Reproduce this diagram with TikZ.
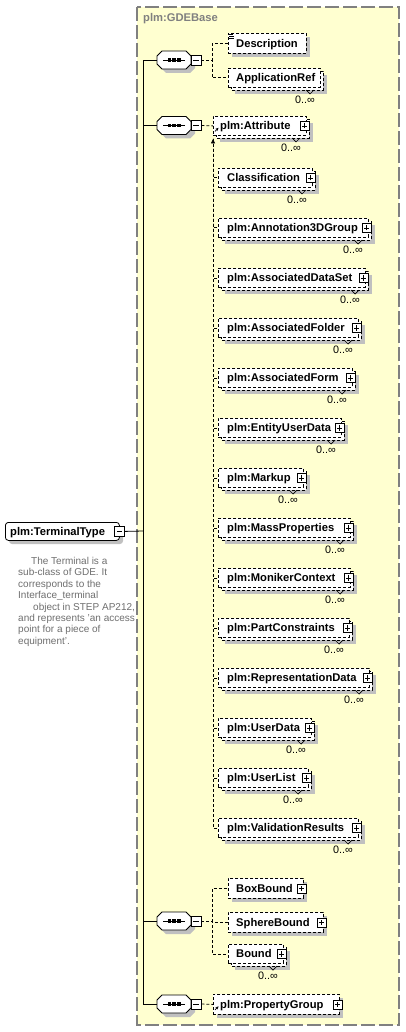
\documentclass[tikz,border=0pt]{standalone}
\usepackage{fontspec}
\setmainfont{Liberation Sans}
\usetikzlibrary{arrows.meta}
\definecolor{frameyellow}{RGB}{255,255,208}
\definecolor{framegray}{RGB}{128,128,128}
\definecolor{shadowc}{RGB}{192,192,192}
\definecolor{doctext}{RGB}{110,110,110}
\tikzset{
  conn/.style={draw=black, line width=0.8pt, dash pattern=on 3pt off 2pt},
  solidline/.style={draw=black, line width=0.8pt},
  boxd/.style={draw=black, line width=0.8pt, dash pattern=on 3pt off 2pt, fill=white, inner sep=0pt},
  lbl/.style={font=\fontsize{11.2}{13}\selectfont\bfseries, inner sep=0pt, text height=7.9pt, text depth=0pt, anchor=west},
  occ/.style={font=\fontsize{10.8}{12}\selectfont, inner sep=0pt, anchor=center},
  pbox/.style={draw=black, line width=0.7pt, fill=white, minimum size=9pt, inner sep=0pt},
}
\newcommand\xplus[1]{\draw[line width=0.7pt] ([xshift=-2.6pt]#1.center) -- ([xshift=2.6pt]#1.center) ([yshift=-2.6pt]#1.center) -- ([yshift=2.6pt]#1.center);}
\newcommand\xminus[1]{\draw[line width=0.7pt] ([xshift=-2.6pt]#1.center) -- ([xshift=2.6pt]#1.center);}
\newcommand\xpbox[1]{\node[pbox] (#1-p) at ([xshift=-2pt]#1.east) {};\xplus{#1-p}}
\newcommand\xref[1]{\draw[line width=0.8pt,-{Stealth[length=3pt,width=3pt]}] ([xshift=2pt,yshift=-5.5pt]#1.west) -- ([xshift=5.5pt,yshift=-2pt]#1.west);}
% name text L T R pad
\newcommand\xsingle[6]{%
  \fill[shadowc] ({#3+4},{#4+4}) rectangle ({#5+4},{#4+24});
  \pgfmathsetmacro\xw{#5-#3}%
  \node[boxd, anchor=north west, minimum width=\xw pt, minimum height=20pt] (#1) at (#3,#4) {};
  \node[lbl] (#1-t) at ([xshift=#6pt]#1.west) {#2};
}
\newcommand\xmulti[6]{%
  \fill[shadowc] ({#3+7},{#4+7}) rectangle ({#5+7},{#4+26});
  \filldraw[boxd] ({#3+3},{#4+3}) rectangle ({#5+3},{#4+22});
  \draw[line width=0.7pt] ({#5-14},{#4+22}) -- ({#5-10},{#4+26}) -- ({#5-6},{#4+22});
  \pgfmathsetmacro\xw{#5-#3}%
  \node[boxd, anchor=north west, minimum width=\xw pt, minimum height=19pt] (#1) at (#3,#4) {};
  \node[lbl] (#1-t) at ([xshift=#6pt]#1.west) {#2};
  \node[occ] (#1-o) at ({#5-15},{#4+32}) {0..∞};
}
\newcommand\octpath[2]{({#1-12},{#2-9}) -- ({#1+12},{#2-9}) -- ({#1+17},{#2-4}) -- ({#1+17},{#2+4}) -- ({#1+12},{#2+9}) -- ({#1-12},{#2+9}) -- ({#1-17},{#2+4}) -- ({#1-17},{#2-4}) -- cycle}
\newcommand\seqc[3]{%
  \fill[shadowc, shift={(4,4)}] \octpath{#2}{#3};
  \filldraw[fill=white, solidline] \octpath{#2}{#3};
  \node[inner sep=0pt, minimum width=34pt, minimum height=18pt] (#1) at (#2,#3) {};
  \draw[line width=0.8pt] ({#2-11},#3) -- ({#2+11},#3);
  \fill ({#2-6.5},{#3-1.7}) rectangle ({#2-3},{#3+1.7});
  \fill ({#2-1.7},{#3-1.7}) rectangle ({#2+1.7},{#3+1.7});
  \fill ({#2+3},{#3-1.7}) rectangle ({#2+6.5},{#3+1.7});
  \node[pbox, minimum size=10pt] (#1-m) at ({#2+22},#3) {};
  \xminus{#1-m}%
}
\begin{document}
\begin{tikzpicture}[x=1pt,y=-1pt]
\useasboundingbox (0,0) rectangle (405,1032);
% frame
\filldraw[fill=frameyellow, draw=framegray, line width=1.3pt, dash pattern=on 14pt off 4pt] (137,7) rectangle (399,1025);
\node[lbl, text=framegray] (gde) at (143,18) {plm:GDEBase};

% terminal type
\fill[shadowc, rounded corners=3pt] (9,526) rectangle (123,544);
\node[draw=black, line width=0.8pt, fill=white, rounded corners=3pt, anchor=north west, minimum width=114pt, minimum height=18pt, inner sep=0pt] (tt) at (5,522) {};
\node[lbl] (tt-t) at ([xshift=5pt]tt.west) {plm:TerminalType};
\node[pbox, minimum size=10pt] (tt-m) at (tt.east) {};
\xminus{tt-m}
\node[align=left, font=\fontsize{10}{11.4}\selectfont, text=doctext, anchor=north west, inner sep=0pt] (doc) at (18,557) {\hspace*{13pt}The Terminal is a\\sub-class of GDE. It\\corresponds to the\\Interface\_terminal\\\hspace*{15pt}object in STEP AP212,\\and represents 'an access\\point for a piece of\\equipment'.};

% compositors
\seqc{s1}{174}{60}
\seqc{s2}{174}{125.5}
\seqc{s3}{174}{921}
\seqc{s4}{174}{1004}

\coordinate (trunk) at (143,531);
\draw[solidline] (tt-m.east) -- (trunk);
\draw[solidline] (trunk) |- (s1.west);
\draw[solidline] (trunk) |- (s2.west);
\draw[solidline] (trunk) |- (s3.west);
\draw[solidline] (trunk) |- (s4.west);

% group 1
\xsingle{desc}{Description}{228}{33}{306}{8}
\draw[line width=0.6pt] (229,34) -- (233,34) (229,36) -- (234,36) (229,38) -- (234,38);
\xmulti{appref}{ApplicationRef}{228}{68}{320}{8}
\draw[conn] (s1-m.east) -- ++(11,0) |- (desc.west);
\draw[conn] (s1-m.east) -- ++(11,0) |- (appref.west);

% group 2
\xmulti{attr}{plm:Attribute}{213}{116}{306}{7}
\xpbox{attr}
\xref{attr}
\draw[conn] (s2-m.east) -- (attr.west);

\xmulti{cls}{Classification}{218}{168}{312}{9}\xpbox{cls}
\xmulti{a3d}{plm:Annotation3DGroup}{218}{218}{368}{9}\xpbox{a3d}
\xmulti{ads}{plm:AssociatedDataSet}{218}{268}{365}{9}\xpbox{ads}
\xmulti{afo}{plm:AssociatedFolder}{218}{318}{358}{9}\xpbox{afo}
\xmulti{afm}{plm:AssociatedForm}{218}{368}{352}{9}\xpbox{afm}
\xmulti{eud}{plm:EntityUserData}{218}{418}{341}{9}\xpbox{eud}
\xmulti{mku}{plm:Markup}{218}{468}{303}{9}\xpbox{mku}
\xmulti{mpr}{plm:MassProperties}{218}{518}{350}{9}\xpbox{mpr}
\xmulti{mon}{plm:MonikerContext}{218}{568}{350}{9}\xpbox{mon}
\xmulti{pco}{plm:PartConstraints}{218}{618}{349}{9}\xpbox{pco}
\xmulti{rep}{plm:RepresentationData}{218}{668}{369}{9}\xpbox{rep}
\xmulti{usd}{plm:UserData}{218}{718}{311}{9}\xpbox{usd}
\xmulti{usl}{plm:UserList}{218}{768}{308}{9}\xpbox{usl}
\xmulti{val}{plm:ValidationResults}{218}{818}{358}{9}\xpbox{val}

\coordinate (subtop) at (213,139);
\coordinate (subtail) at (213,147);
\foreach \m in {cls,a3d,ads,afo,afm,eud,mku,mpr,mon,pco,rep,usd,usl,val}{
  \draw[conn] (subtop) |- (\m.west);
}
\draw[conn, -{Triangle[length=4.5pt,width=4pt]}] (subtail) -- (subtop);

% group 3
\xsingle{boxb}{BoxBound}{228}{878}{303}{8}\xpbox{boxb}
\xsingle{sphb}{SphereBound}{228}{912}{323}{8}\xpbox{sphb}
\xmulti{bnd}{Bound}{228}{944}{283}{8}\xpbox{bnd}
\draw[conn] (s3-m.east) -- ++(11,0) |- (boxb.west);
\draw[conn] (s3-m.east) -- ++(11,0) |- (sphb.west);
\draw[conn] (s3-m.east) -- ++(11,0) |- (bnd.west);

% group 4
\xsingle{pg}{plm:PropertyGroup}{213}{994}{339}{7}\xpbox{pg}
\xref{pg}
\draw[conn] (s4-m.east) -- (pg.west);
\end{tikzpicture}
\end{document}
